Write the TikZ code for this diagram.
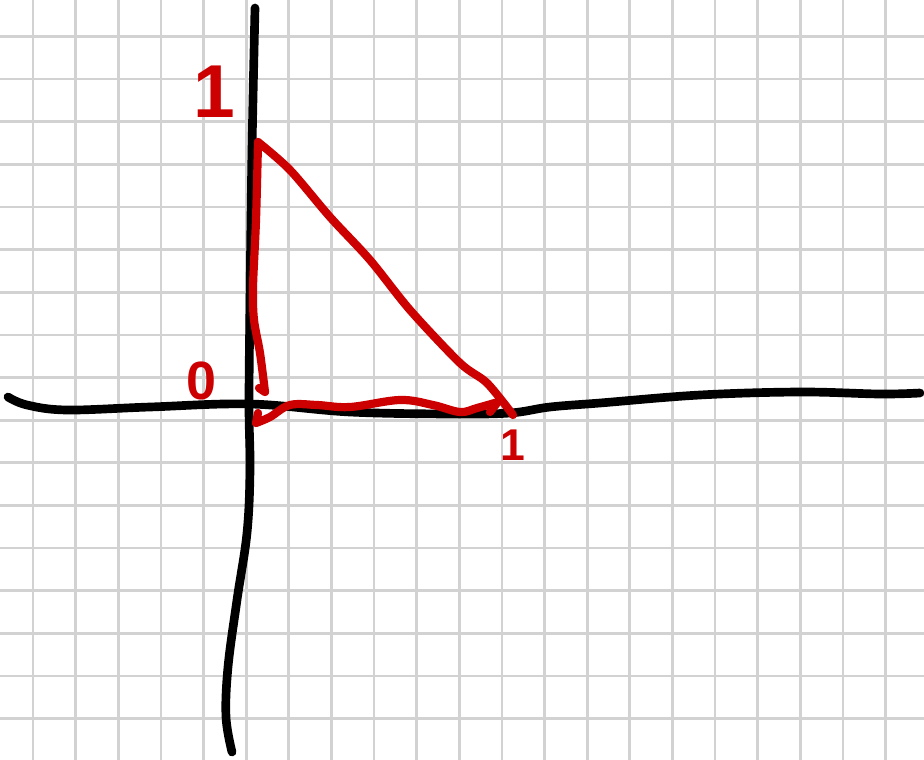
\documentclass[tikz,border=0pt]{standalone}
\usepackage{fontspec}
\newfontfamily\handfont{Liberation Sans}
\tikzset{
  gridline/.style={gray!35, line width=2.3pt},
  axisline/.style={black, line width=7.4pt, line cap=round, line join=round},
  redink/.style={red!80!black, line width=7pt, line cap=round, line join=round},
  redlabel/.style={red!80!black, inner sep=0pt}
}
\begin{document}
\begin{tikzpicture}[x=0.03cm, y=-0.03cm]
    \useasboundingbox[fill=white] (0,0) rectangle (924,760);
    % paper grid
    \foreach \k in {0,...,20} {\draw[gridline] ({33+42.63*\k},0) -- ({33+42.63*\k},760);}
    \foreach \k in {0,...,16} {\draw[gridline] (0,{36.5+42.63*\k}) -- (924,{36.5+42.63*\k});}
    % axes
    \draw[axisline] plot[smooth, tension=0.6] coordinates {(8,397) (27,405) (67,410) (150,407) (250,404) (350,412) (450,414) (510,413) (550,407) (600,403) (700,395) (800,392) (880,394) (920,393)};
    \draw[axisline] plot[smooth, tension=0.6] coordinates {(255,8) (252,150) (250,300) (249,405) (250,470) (247,533) (237,600) (228,667) (226,717) (232,752)};
    % triangle
    \draw[redink] plot[smooth, tension=0.5] coordinates {(258,142) (256,220) (253,287) (254,320) (260,353) (265,392)} -- (259,388);
    \draw[redink] plot[smooth, tension=0.5] coordinates {(258,142) (290,170) (330,217) (370,260) (410,310) (460,363) (487,383) (513,415)};
    \draw[redink] (258,413) -- (256,423) plot[smooth, tension=0.6] coordinates {(256,423) (270,417) (290,405) (317,405) (350,407) (400,400) (433,405) (460,412) (477,408) (498,402)};
    \draw[redink] (490,412) -- (497,403);
    % labels
    \node[redlabel, font=\handfont\bfseries\fontsize{64}{64}\selectfont] (oney) at (214,92) {1};
    \node[redlabel, font=\handfont\bfseries\fontsize{46}{46}\selectfont] (zero) at (201,381) {0};
    \node[redlabel, font=\handfont\bfseries\fontsize{38}{38}\selectfont] (onex) at (513,445) {1};
\end{tikzpicture}
\end{document}
